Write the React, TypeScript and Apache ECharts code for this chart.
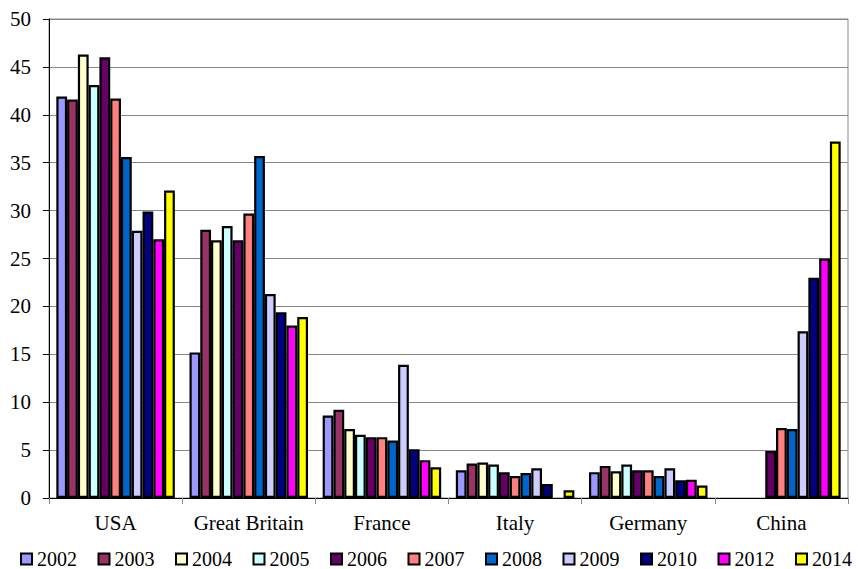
import React, { useEffect, useRef } from "react";
import * as echarts from "echarts";

const countries = ["USA", "Great Britain", "France", "Italy", "Germany", "China"];
const years = ["2002", "2003", "2004", "2005", "2006", "2007", "2008", "2009", "2010", "2012", "2014"];
const yearColors = [
  "#9999FF", "#993366", "#FFFFCC", "#CCFFFF", "#660066", "#FF8080",
  "#0066CC", "#CCCCFF", "#000080", "#FF00FF", "#FFFF00",
];

// one array per country, ordered like `years`; null = no data
const usa = [41.9, 41.6, 46.3, 43.1, 46.0, 41.7, 35.6, 27.9, 29.9, 27.0, 32.1];
const greatBritain = [15.2, 28.0, 26.9, 28.4, 26.9, 29.7, 35.7, 21.3, 19.4, 18.0, 18.9];
const france = [8.6, 9.2, 7.2, 6.6, 6.35, 6.35, 6.0, 13.9, 5.1, 3.95, 3.2];
const italy = [2.9, 3.6, 3.7, 3.5, 2.7, 2.3, 2.6, 3.1, 1.45, null, 0.8];
const germany = [2.7, 3.35, 2.8, 3.5, 2.9, 2.9, 2.3, 3.1, 1.85, 1.9, 1.3];
const china = [null, null, null, null, 4.9, 7.3, 7.2, 17.4, 23.0, 25.0, 37.2];

const yTicks = { min: 0, max: 50, interval: 5 };

const byCountry = [usa, greatBritain, france, italy, germany, china];
const FONT = "Liberation Serif";
const FONT_SIZE = 21;

export default function App() {
  const ref = useRef<HTMLDivElement>(null);

  useEffect(() => {
    if (!ref.current) return;
    const chart = echarts.init(ref.current, undefined, { renderer: "svg" });

    const series = years.map((year, i) => ({
      name: year,
      type: "bar" as const,
      data: byCountry.map((row) => row[i]),
      barGap: "0%",
      barCategoryGap: "11%",
      itemStyle: {
        color: yearColors[i],
        borderColor: "#000",
        borderWidth: 2.2,
      },
    }));

    chart.setOption({
      animation: false,
      backgroundColor: "#fff",
      textStyle: { fontFamily: FONT, color: "#000" },
      grid: {
        left: 49,
        right: 10,
        top: 19,
        bottom: 71,
        show: true,
        borderColor: "#888",
        borderWidth: 1,
      },
      legend: {
        left: 20,
        top: 549,
        width: 856,
        padding: 0,
        itemWidth: 11,
        itemHeight: 11,
        itemGap: 20.5,
        icon: "rect",
        textStyle: {
          fontFamily: FONT,
          fontSize: 20,
          lineHeight: 20,
          color: "#000",
        },
        data: years,
      },
      xAxis: {
        type: "category",
        data: countries,
        axisLine: { show: true, lineStyle: { color: "#000", width: 1 } },
        axisTick: { show: true, length: 6, lineStyle: { color: "#888" } },
        axisLabel: {
          interval: 0,
          fontFamily: FONT,
          fontSize: FONT_SIZE,
          color: "#000",
          margin: 14,
        },
      },
      yAxis: {
        type: "value",
        min: yTicks.min,
        max: yTicks.max,
        interval: yTicks.interval,
        axisLine: { show: true, lineStyle: { color: "#000", width: 1 } },
        axisTick: { show: true, length: 6, lineStyle: { color: "#000" } },
        axisLabel: {
          fontFamily: FONT,
          fontSize: FONT_SIZE,
          color: "#000",
          margin: 18,
        },
        splitLine: { show: true, lineStyle: { color: "#888", width: 1 } },
      },
      series,
    });

    return () => chart.dispose();
  }, []);

  return (
    <div
      ref={ref}
      style={{ position: "fixed", left: 0, top: 0, width: 858, height: 569 }}
    />
  );
}
